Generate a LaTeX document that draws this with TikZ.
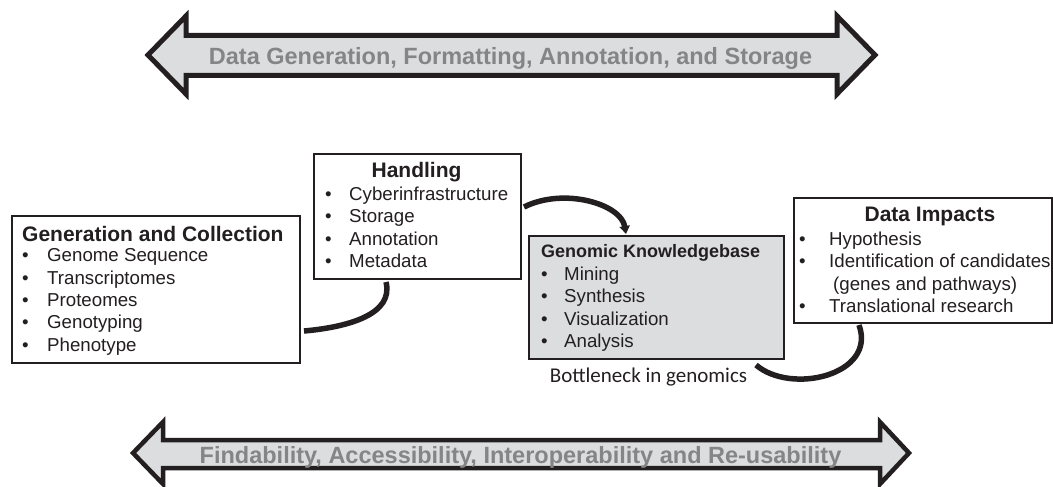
\documentclass[tikz,border=0pt]{standalone}
\usepackage{fontspec}
\setmainfont{Liberation Sans}
\newfontfamily\calfont{Carlito}
\usetikzlibrary{arrows.meta,calc,backgrounds}
\definecolor{arrfill}{HTML}{DCDDDF}
\definecolor{arrtext}{HTML}{858585}
\definecolor{ink}{HTML}{231F20}
\begin{document}
\begin{tikzpicture}[x=1pt,y=-1pt,
  box/.style={draw=ink, line width=2pt, anchor=north west, inner sep=0pt, fill=white},
  boxtitle/.style={font=\fontsize{21}{21}\selectfont\bfseries, text=ink, inner sep=0pt},
  item/.style={font=\fontsize{18.7}{18.7}\selectfont, text=ink, anchor=base west, inner sep=0pt},
  bigarrow/.style={draw=ink, fill=arrfill, line join=miter, miter limit=10},
  bigtext/.style={font=\fontsize{23.5}{23.5}\selectfont\bfseries, text=arrtext, anchor=base, inner sep=0pt},
  link/.style={draw=ink, line width=5.5pt},
]
\useasboundingbox (0,0) rectangle (1053,487);

% big double arrows
\draw[bigarrow, line width=5pt] (148,55) -- (186,16) -- (186,35.5) -- (837,35.5) -- (837,16) -- (875,55)
  -- (837,94) -- (837,75.5) -- (186,75.5) -- (186,94) -- cycle;
\node[bigtext] (toptext) at (510.5,65) {Data Generation, Formatting, Annotation, and Storage};

\draw[bigarrow, line width=4.5pt] (133,453) -- (163,422) -- (163,440) -- (880,440) -- (880,422) -- (909,453)
  -- (880,484) -- (880,468) -- (163,468) -- (163,484) -- cycle;
\node[bigtext] (bottext) at (520.5,463) {Findability, Accessibility, Interoperability and Re-usability};

% boxes
\node[box, minimum width=288pt, minimum height=147pt] (gen) at (11,215) {};
\node[box, minimum width=207pt, minimum height=125pt] (hand) at (313,153) {};
\node[box, minimum width=255pt, minimum height=123pt, fill=arrfill] (genom) at (528,235) {};
\node[box, minimum width=258pt, minimum height=125pt] (data) at (793,197) {};

% Generation and Collection
\node[boxtitle, anchor=base west] (gent) at (22,241.7) {Generation and Collection};
\node[item] (g1) at (22,261.7) {\makebox[25pt][l]{•}Genome Sequence};
\node[item] (g2) at (22,284.0) {\makebox[25pt][l]{•}Transcriptomes};
\node[item] (g3) at (22,306.3) {\makebox[25pt][l]{•}Proteomes};
\node[item] (g4) at (22,328.6) {\makebox[25pt][l]{•}Genotyping};
\node[item] (g5) at (22,351.0) {\makebox[25pt][l]{•}Phenotype};

% Handling
\node[boxtitle, anchor=base] (handt) at (416.5,177) {Handling};
\node[item] (h1) at (325,200.0) {\makebox[24pt][l]{•}Cyberinfrastructure};
\node[item] (h2) at (325,222.5) {\makebox[24pt][l]{•}Storage};
\node[item] (h3) at (325,245.0) {\makebox[24pt][l]{•}Annotation};
\node[item] (h4) at (325,267.5) {\makebox[24pt][l]{•}Metadata};

% Genomic Knowledgebase
\node[boxtitle, font=\fontsize{18}{18}\selectfont\bfseries, anchor=base west] (genomt) at (541,257) {Genomic Knowledgebase};
\node[item] (k1) at (541,280.0) {\makebox[23pt][l]{•}Mining};
\node[item] (k2) at (541,302.5) {\makebox[23pt][l]{•}Synthesis};
\node[item] (k3) at (541,325.0) {\makebox[23pt][l]{•}Visualization};
\node[item] (k4) at (541,347.5) {\makebox[23pt][l]{•}Analysis};
\node[font=\calfont\fontsize{21}{21}\selectfont, text=ink, anchor=base, inner sep=0pt] (bottle) at (648.5,382) {Bottleneck in genomics};

% Data Impacts
\node[boxtitle, anchor=base] (datat) at (930,221) {Data Impacts};
\node[item] (d1) at (799,245.0) {\makebox[30pt][l]{•}Hypothesis};
\node[item] (d2) at (799,267.5) {\makebox[30pt][l]{•}Identification of candidates};
\node[item] (d3) at (799,290.0) {\makebox[34pt][l]{}(genes and pathways)};
\node[item] (d4) at (799,312.5) {\makebox[30pt][l]{•}Translational research};

% connectors
\begin{scope}[on background layer]
\draw[link] ([yshift=-41.5pt]gen.east) ++(3,0) .. controls +(45,-4) and +(8,32) .. ([xshift=-31.5pt,yshift=-2pt]hand.south);
\draw[link, -{Triangle[length=8pt,width=10pt]}] ([xshift=2pt,yshift=9.5pt]hand.east) .. controls +(40,-20) and +(-5,-30) .. ([xshift=-30.5pt,yshift=1pt]genom.north);
\draw[link] ([xshift=99.5pt,yshift=-5pt]genom.south) .. controls +(35,30) and +(18,50) .. ([xshift=-64pt,yshift=-1pt]data.south);
\end{scope}
\end{tikzpicture}
\end{document}
